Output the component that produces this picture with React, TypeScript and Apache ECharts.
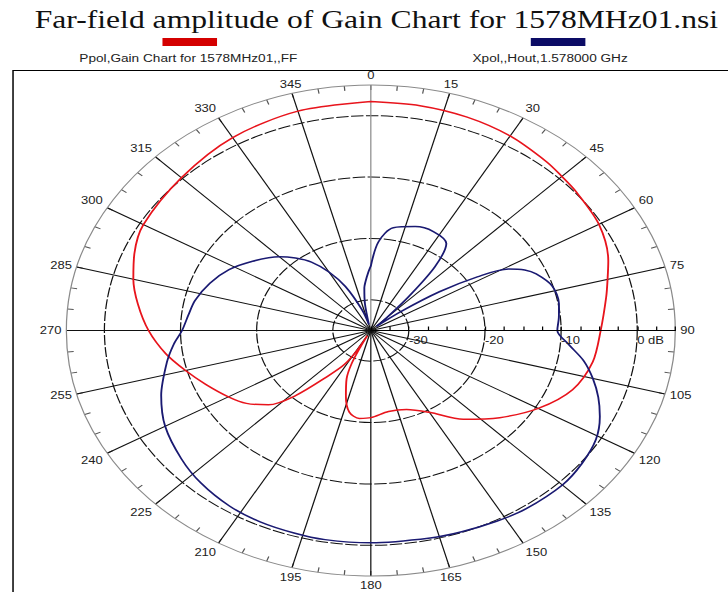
import React, { useEffect, useRef } from 'react';
import * as echarts from 'echarts';

const TITLE = 'Far-field amplitude of Gain Chart for 1578MHz01.nsi';
const PPOL_NAME = 'Ppol,Gain Chart for 1578MHz01,,FF';
const XPOL_NAME = 'Xpol,,Hout,1.578000 GHz';

// Ppol (red) – angle in degrees (clockwise from top), gain in dB
const ppolAngles = [0, 10, 20, 30, 40, 45, 50, 60, 70, 75, 80, 90, 100, 110, 120, 130, 140, 150, 160, 170, 180, 186, 192, 197, 202, 205, 207, 208, 209, 212, 217, 223, 228, 234, 240, 248, 255, 262, 270, 278, 285, 292, 300, 315, 330, 345, 360];
const ppolGain = [2.3, 2.2, 2.0, 1.6, 0.9, 0.5, 0.2, -0.4, -1.8, -2.8, -3.6, -4.8, -5.4, -6.8, -9.6, -12.9, -16.1, -19.6, -21.3, -21.6, -20.8, -20.6, -21.4, -23.8, -26.5, -29, -32, -34, -31.5, -28.5, -25.8, -20.5, -16.9, -14.8, -13.4, -11.6, -9.8, -7.8, -5.8, -4.1, -2.7, -1.5, -0.5, 0.2, 1.3, 2.0, 2.3];

// Xpol (navy)
const xpolAngles = [0, 4, 10, 19, 27, 35, 39, 42, 45, 48, 52, 55, 58, 61, 64, 67, 73, 80, 85, 90, 95, 100, 105, 110, 115, 121, 128, 135, 145, 152, 160, 167, 180, 190, 197, 205, 213, 222, 230, 240, 249, 259, 265, 270, 276, 282, 290, 298, 306, 315, 320, 325, 330, 335, 341, 346, 350, 353, 355, 358, 360];
const xpolGain = [-24.5, -20.5, -18, -17.1, -16.9, -17.7, -21.6, -27.5, -32, -34, -30, -24, -18.5, -14.3, -12.5, -11.4, -10.1, -9.9, -10.2, -10.5, -8.9, -6.6, -4.8, -3.2, -1.8, -0.5, 0.2, 0.6, 0.5, 0.2, -0.1, -0.3, -0.4, -0.4, -0.5, -0.6, -0.9, -1.6, -2.5, -3.8, -5.5, -7.7, -9.0, -10.2, -10.9, -11.4, -12.5, -13.9, -15.8, -18, -19.6, -21.4, -24, -27.1, -31.4, -34, -30.5, -28, -27, -25.5, -24.5];

const RADIUS_MIN = -35;
const RADIUS_MAX = 5;
const RADIUS_LABELS = [-30, -20, -10, 0];
const ANGLE_STEP = 15;

const RED = '#e8141c';
const NAVY = '#1a1a72';

const STRETCH = 728 / 587;

export default function App() {
  const ref = useRef<HTMLDivElement>(null);

  useEffect(() => {
    if (!ref.current) return;
    const chart = echarts.init(ref.current, null, { renderer: 'svg' });
    const center = [299, 330.5];
    const radius = 245.5;
    const spokeColors = Array.from({ length: 360 / ANGLE_STEP }, (_, i) => (i === 0 ? '#8c8c8c' : '#111'));
    const font = "'Liberation Sans', Arial, sans-serif";

    const legendCfg = (name: string, left: number, pad: number, color: string) => ({
      data: [name],
      left,
      top: 36,
      padding: 0,
      icon: 'none',
      itemWidth: 0,
      itemHeight: 0,
      itemGap: 0,
      selectedMode: false,
      formatter: (n: string) => `{pad|}{sw|}\n{txt|${n}}`,
      textStyle: {
        rich: {
          pad: { width: pad, height: 8, lineHeight: 8 },
          sw: { width: 44, height: 8, lineHeight: 8, backgroundColor: color },
          txt: { fontSize: 11, lineHeight: 24, color: '#222', fontFamily: font },
        },
      },
    });

    chart.setOption({
      animation: false,
      backgroundColor: '#fff',
      textStyle: { fontFamily: font },
      title: {
        text: TITLE,
        left: 28,
        top: 6,
        padding: 0,
        textStyle: {
          fontFamily: "'Liberation Serif', 'Times New Roman', serif",
          fontSize: 25.5,
          fontWeight: 'normal',
          color: '#111',
        },
      },
      legend: [legendCfg(PPOL_NAME, 59, 67, '#d40000'), legendCfg(XPOL_NAME, 376, 47, '#0c0c66')],
      graphic: [
        {
          type: 'rect',
          left: 8,
          top: 68,
          shape: { width: 700, height: 700 },
          style: { fill: 'none', stroke: '#000', lineWidth: 1.2 },
          silent: true,
        },
      ],
      polar: [
        { center, radius },
        { center, radius },
      ],
      angleAxis: [
        {
          polarIndex: 0,
          type: 'value',
          min: 0,
          max: 360,
          interval: ANGLE_STEP,
          startAngle: 90,
          clockwise: true,
          axisLine: { show: true, lineStyle: { color: '#8a8a8a', width: 1 } },
          axisTick: { show: true, inside: true, length: 5, lineStyle: { color: '#555' } },
          minorTick: { show: true, splitNumber: 3, length: 5, lineStyle: { color: '#555' } },
          axisLabel: { margin: 4, fontSize: 10.5, color: '#222', fontFamily: font },
          splitLine: { show: true, lineStyle: { color: spokeColors, width: 1 } },
        },
        {
          polarIndex: 1,
          type: 'value',
          min: 0,
          max: 360,
          startAngle: 0,
          show: false,
        },
      ],
      radiusAxis: [
        {
          polarIndex: 0,
          type: 'value',
          min: RADIUS_MIN,
          max: RADIUS_MAX,
          interval: 5,
          axisLine: { show: false },
          axisTick: { show: false },
          axisLabel: { show: false },
          splitLine: { show: true, lineStyle: { color: ['rgba(0,0,0,0)', '#111'], width: 1, type: [10, 2] } },
        },
        {
          polarIndex: 1,
          type: 'value',
          min: RADIUS_MIN,
          max: RADIUS_MAX,
          interval: 5,
          z: 5,
          axisLine: { show: true, lineStyle: { color: '#000', width: 1.2 } },
          axisTick: { show: true, length: 4, lineStyle: { color: '#000' } },
          minorTick: { show: true, splitNumber: 2, length: 4, lineStyle: { color: '#000' } },
          axisLabel: {
            show: true,
            margin: -15,
            align: 'left',
            fontSize: 10.5,
            color: '#222',
            fontFamily: font,
            formatter: (v: number) => (RADIUS_LABELS.includes(v) ? (v === 0 ? '0 dB' : String(v)) : ''),
          },
          splitLine: { show: false },
          splitArea: { show: false },
        },
      ],
      series: [
        {
          name: PPOL_NAME,
          type: 'line',
          coordinateSystem: 'polar',
          polarIndex: 0,
          data: ppolGain.map((g, i) => [g, ppolAngles[i]]),
          showSymbol: false,
          smooth: 0.3,
          lineStyle: { color: RED, width: 1.5 },
          itemStyle: { color: RED },
          z: 3,
        },
        {
          name: XPOL_NAME,
          type: 'line',
          coordinateSystem: 'polar',
          polarIndex: 0,
          data: xpolGain.map((g, i) => [g, xpolAngles[i]]),
          showSymbol: false,
          smooth: 0.3,
          lineStyle: { color: NAVY, width: 1.5 },
          itemStyle: { color: NAVY },
          z: 3,
        },
      ],
    });
    return () => chart.dispose();
  }, []);

  return (
    <div
      ref={ref}
      style={{
        position: 'absolute',
        left: 0,
        top: 0,
        width: 587,
        height: 592,
        transform: `scaleX(${STRETCH})`,
        transformOrigin: '0 0',
      }}
    />
  );
}
